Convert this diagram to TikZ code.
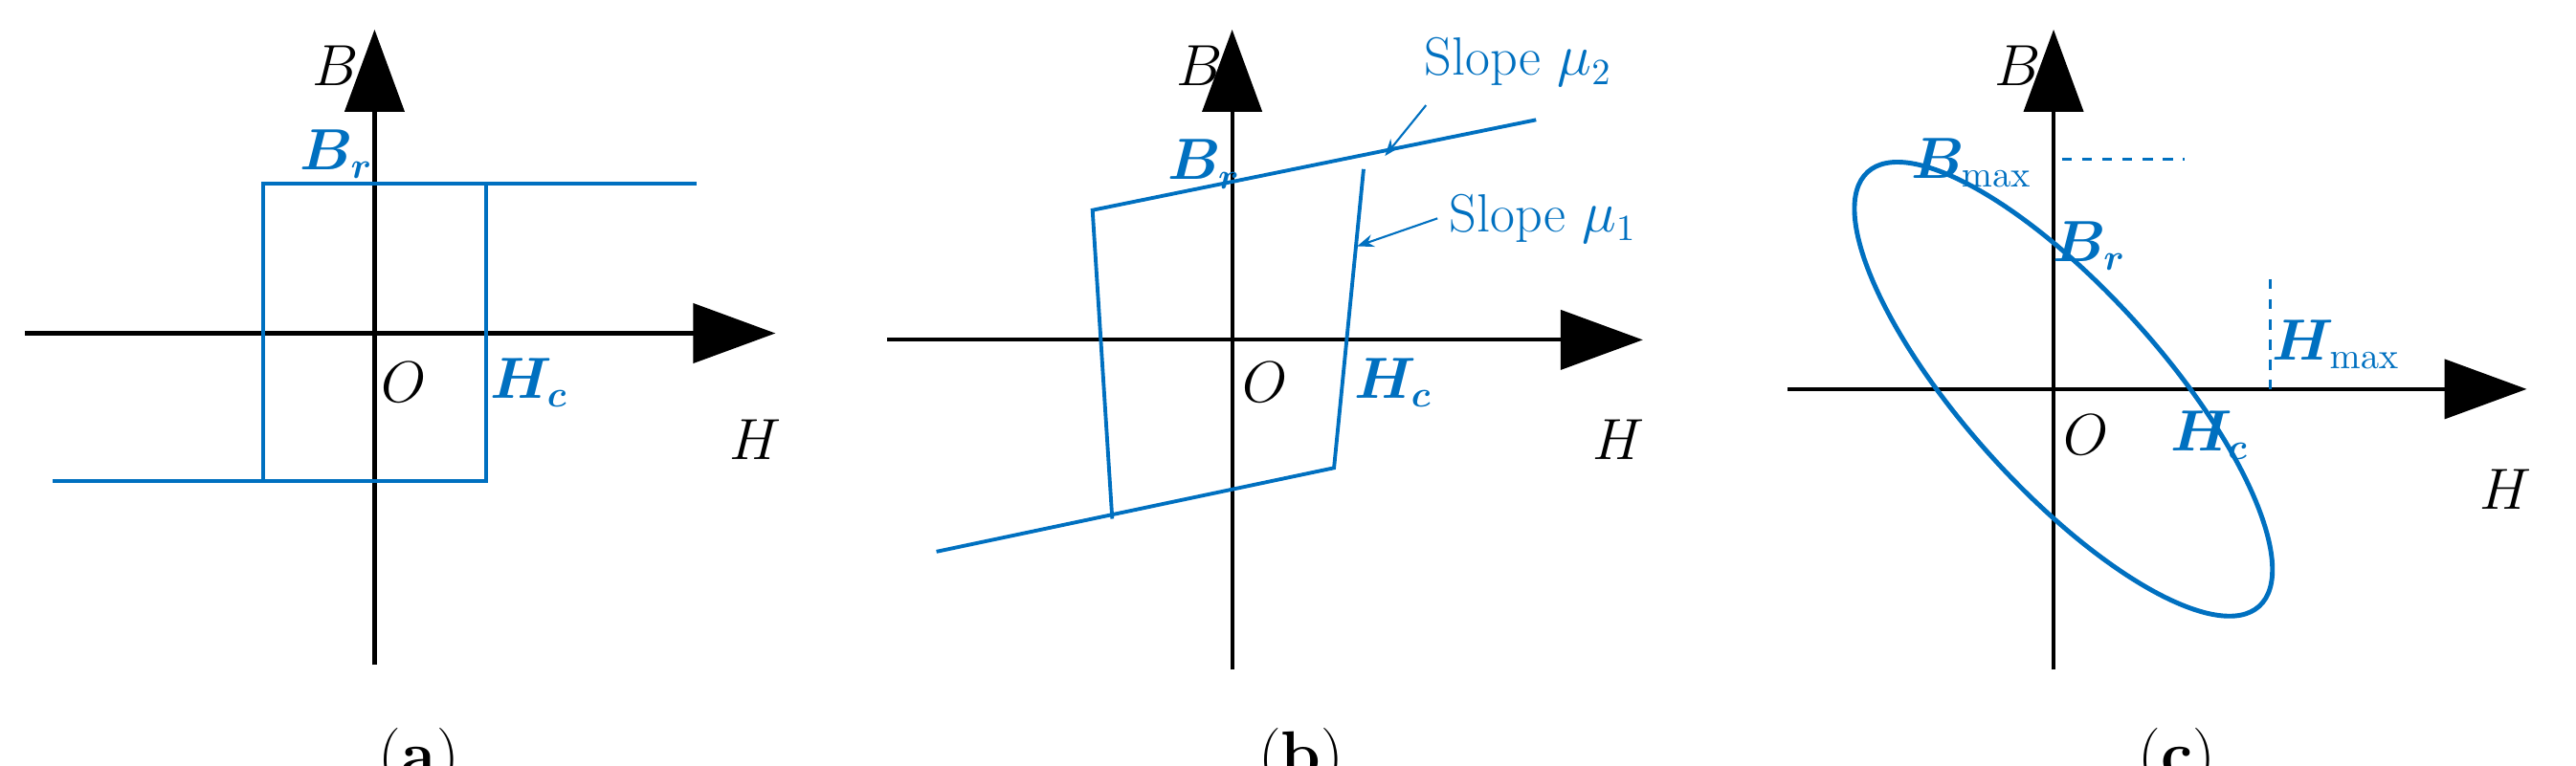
\documentclass[tikz,border=0pt]{standalone}
\usepackage{amsmath,bm}
\usetikzlibrary{arrows.meta}
\definecolor{cb}{RGB}{0,112,192}
\begin{document}
\begin{tikzpicture}[x=0.01717cm,y=-0.01717cm,
 ax/.style={line width=1.2pt,-{Triangle[length=0.86cm,width=0.62cm]}},
 cv/.style={cb,line width=1.1pt},
 lb/.style={font=\fontsize{16}{19}\selectfont},
 bl/.style={lb,text=cb},
 capt/.style={font=\fontsize{19}{22}\selectfont}]
\useasboundingbox (0,0) rectangle (1568,466);
% (a)
\draw[ax] (15,203) -- (472,203);
\draw[ax] (228,405) -- (228,18);
\draw[cv] (424,112) -- (160,112) -- (160,293);
\draw[cv] (32,293) -- (296,293) -- (296,112);
\node[lb] at (204,40) {$B$};
\node[bl] at (205,94) {$\bm{B_r}$};
\node[lb] at (246,233) {$O$};
\node[bl] at (322,233) {$\bm{H_c}$};
\node[lb] at (460,268) {$H$};
\node[capt] at (255,463) {(\textbf{a})};
% (b)
\draw[ax] (540,207) -- (1000,207);
\draw[ax] (750,408) -- (750,18);
\draw[cv] (935,73) -- (665,128) -- (677,316);
\draw[cv] (570,336) -- (812,285) -- (830,103);
\coordinate (s2) at (843,95); \coordinate (s1) at (826,150);
\node[bl,anchor=west] (t2) at (860,38) {Slope $\mu_2$};
\node[bl,anchor=west] (t1) at (875,133) {Slope $\mu_1$};
\draw[cb,line width=0.6pt,-{Stealth[length=5pt]}] (t2.south west)++(8,4) -- (s2);
\draw[cb,line width=0.6pt,-{Stealth[length=5pt]}] (t1.west) -- (s1);
\node[lb] at (730,40) {$B$};
\node[bl] at (733,100) {$\bm{B_r}$};
\node[lb] at (770,233) {$O$};
\node[bl] at (848,233) {$\bm{H_c}$};
\node[lb] at (985,268) {$H$};
\node[capt] at (792,463) {(\textbf{b})};
% (c)
\draw[ax] (1088,237) -- (1538,237);
\draw[ax] (1250,408) -- (1250,18);
\draw[cv,line width=1.4pt] (1256,237) ellipse[x radius=178,y radius=60,rotate=-48];
\draw[cb,line width=1pt,dashed] (1255,97) -- (1330,97);
\draw[cb,line width=1pt,dashed] (1382,170) -- (1382,237);
\node[lb] at (1228,40) {$B$};
\node[bl] at (1200,99) {$\bm{B}_{\max}$};
\node[bl] at (1272,150) {$\bm{B_r}$};
\node[bl] at (1422,210) {$\bm{H}_{\max}$};
\node[lb] at (1270,265) {$O$};
\node[bl] at (1345,265) {$\bm{H_c}$};
\node[lb] at (1525,298) {$H$};
\node[capt] at (1325,463) {(\textbf{c})};
\end{tikzpicture}
\end{document}
